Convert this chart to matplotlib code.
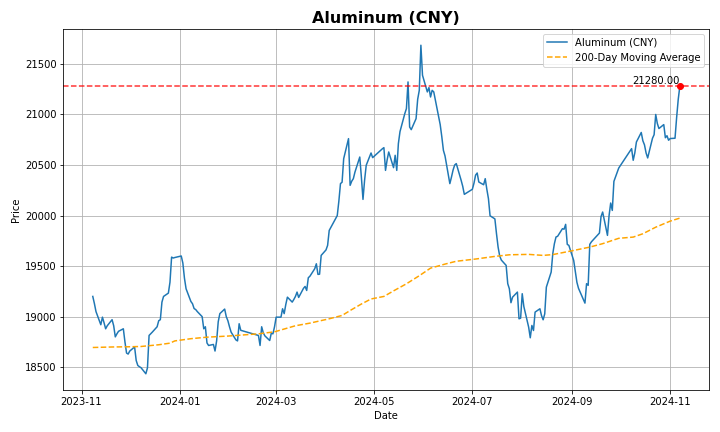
#Importing the necessary libraries
import matplotlib
matplotlib.use('Agg')
import matplotlib.pyplot as plt
import matplotlib.dates as mdates
import pandas as pd

#Daily closing prices (CNY), one list per month
nov23 = [19200, 19130, 19050, 18920, 18995, 18940, 18880, 18910, 18970, 18910, 18800, 18830, 18855, 18880, 18750, 18640, 18630]
dec23 = [18660, 18700, 18566, 18517, 18505, 18495, 18435, 18494, 18814, 18830, 18847, 18900, 18960, 18970, 19144, 19200, 19233, 19341, 19589, 19580, 19585]
jan24 = [19600, 19530, 19380, 19276, 19150, 19128, 19080, 19070, 19050, 19000, 18880, 18900, 18740, 18715, 18725, 18660, 18760, 18950, 19030, 19075, 19000, 18960]
feb24 = [18900, 18847, 18770, 18760, 18930, 18865, 18814, 18715, 18900, 18840, 18810, 18764, 18837, 18830, 18900]
mar24 = [18995, 18995, 19078, 19030, 19120, 19193, 19144, 19170, 19200, 19243, 19190, 19280, 19299, 19259, 19385, 19400, 19474, 19523, 19418, 19420, 19606]
apr24 = [19660, 19705, 19853, 20000, 20143, 20316, 20330, 20563, 20761, 20299, 20340, 20365, 20430, 20579, 20380, 20160, 20350, 20497, 20619, 20573]
may24 = [20660, 20672, 20447, 20550, 20629, 20474, 20596, 20447, 20712, 20830, 21009, 21058, 21322, 20876, 20850, 20959, 21150, 21239, 21685, 21388]
jun24 = [21223, 21266, 21173, 21239, 21223, 20900, 20780, 20645, 20590, 20316, 20380, 20450, 20500, 20514, 20350, 20290, 20210, 20220, 20230]
jul24 = [20260, 20320, 20400, 20421, 20332, 20305, 20365, 20260, 20167, 19998, 19967, 19821, 19688, 19600, 19560, 19507, 19326, 19276, 19138, 19193, 19243, 18979, 18985]
aug24 = [19227, 19101, 18896, 18791, 18913, 18863, 19045, 19078, 19010, 18969, 19028, 19292, 19441, 19623, 19722, 19788, 19795, 19870, 19865, 19913, 19715, 19705]
sep24 = [19556, 19450, 19340, 19280, 19243, 19134, 19326, 19310, 19715, 19740, 19827, 19990, 20035, 19804, 20000, 20124, 20051, 20338, 20470]
oct24 = [20662, 20547, 20620, 20728, 20822, 20740, 20700, 20620, 20570, 20765, 20800, 21000, 20911, 20861, 20900, 20770, 20790, 20745]
nov24 = [20762, 20765, 20970, 21150, 21280]

#Exchange holidays (no trading)
holidays = ['2024-01-01', '2024-02-09', '2024-02-12', '2024-02-13', '2024-02-14', '2024-02-15',
            '2024-02-16', '2024-04-04', '2024-04-05', '2024-05-01', '2024-05-02', '2024-05-03',
            '2024-06-10', '2024-09-16', '2024-09-17', '2024-10-01', '2024-10-02', '2024-10-03',
            '2024-10-04', '2024-10-07']

#200-day moving average
ma_dates = ['2023-11-08', '2023-11-20', '2023-11-30', '2023-12-08', '2023-12-19', '2023-12-26',
            '2023-12-29', '2024-01-08', '2024-01-18', '2024-01-31', '2024-02-06', '2024-02-19',
            '2024-02-29', '2024-03-13', '2024-03-22', '2024-04-03', '2024-04-11', '2024-04-17',
            '2024-04-23', '2024-04-29', '2024-05-07', '2024-05-13', '2024-05-21', '2024-05-29',
            '2024-06-05', '2024-06-14', '2024-06-21', '2024-07-03', '2024-07-15', '2024-07-24',
            '2024-08-05', '2024-08-14', '2024-08-20', '2024-09-02', '2024-09-12', '2024-09-20',
            '2024-09-30', '2024-10-09', '2024-10-15', '2024-10-23', '2024-11-01', '2024-11-07']
ma_values = [18695, 18700, 18702, 18705, 18722, 18738,
             18760, 18782, 18797, 18808, 18815, 18830,
             18850, 18910, 18936, 18979, 19012, 19070,
             19125, 19175, 19200, 19255, 19325, 19405,
             19480, 19520, 19548, 19570, 19596, 19612,
             19616, 19606, 19614, 19655, 19688, 19722,
             19775, 19787, 19820, 19885, 19945, 19975]

prices = nov23 + dec23 + jan24 + feb24 + mar24 + apr24 + may24 + jun24 + jul24 + aug24 + sep24 + oct24 + nov24
dates = pd.bdate_range('2023-11-08', '2024-11-07')
dates = dates[~dates.isin(pd.to_datetime(holidays))]
print(len(dates), len(prices))

last_date = dates[-1]
last_price = prices[-1]

plt.figure(figsize=(10, 6), dpi=72)
plt.plot(dates, prices, label='Aluminum (CNY)')
plt.plot(pd.to_datetime(ma_dates), ma_values, color='orange', linestyle='--', label='200-Day Moving Average')
plt.axhline(last_price, color='r', linestyle='--', alpha=0.8) #Latest price level
plt.plot(last_date, last_price, 'ro')
plt.text(last_date, last_price, f'{last_price:.2f}', ha='right', va='bottom')

plt.title('Aluminum (CNY)', fontsize=16, fontweight='bold')
plt.xlabel('Date')
plt.ylabel('Price')
plt.gca().xaxis.set_major_locator(mdates.MonthLocator(bymonth=[1, 3, 5, 7, 9, 11]))
plt.gca().xaxis.set_major_formatter(mdates.DateFormatter('%Y-%m'))
plt.legend(loc='upper right')
plt.grid(True)
plt.tight_layout()
plt.savefig('out.png', dpi=72)
